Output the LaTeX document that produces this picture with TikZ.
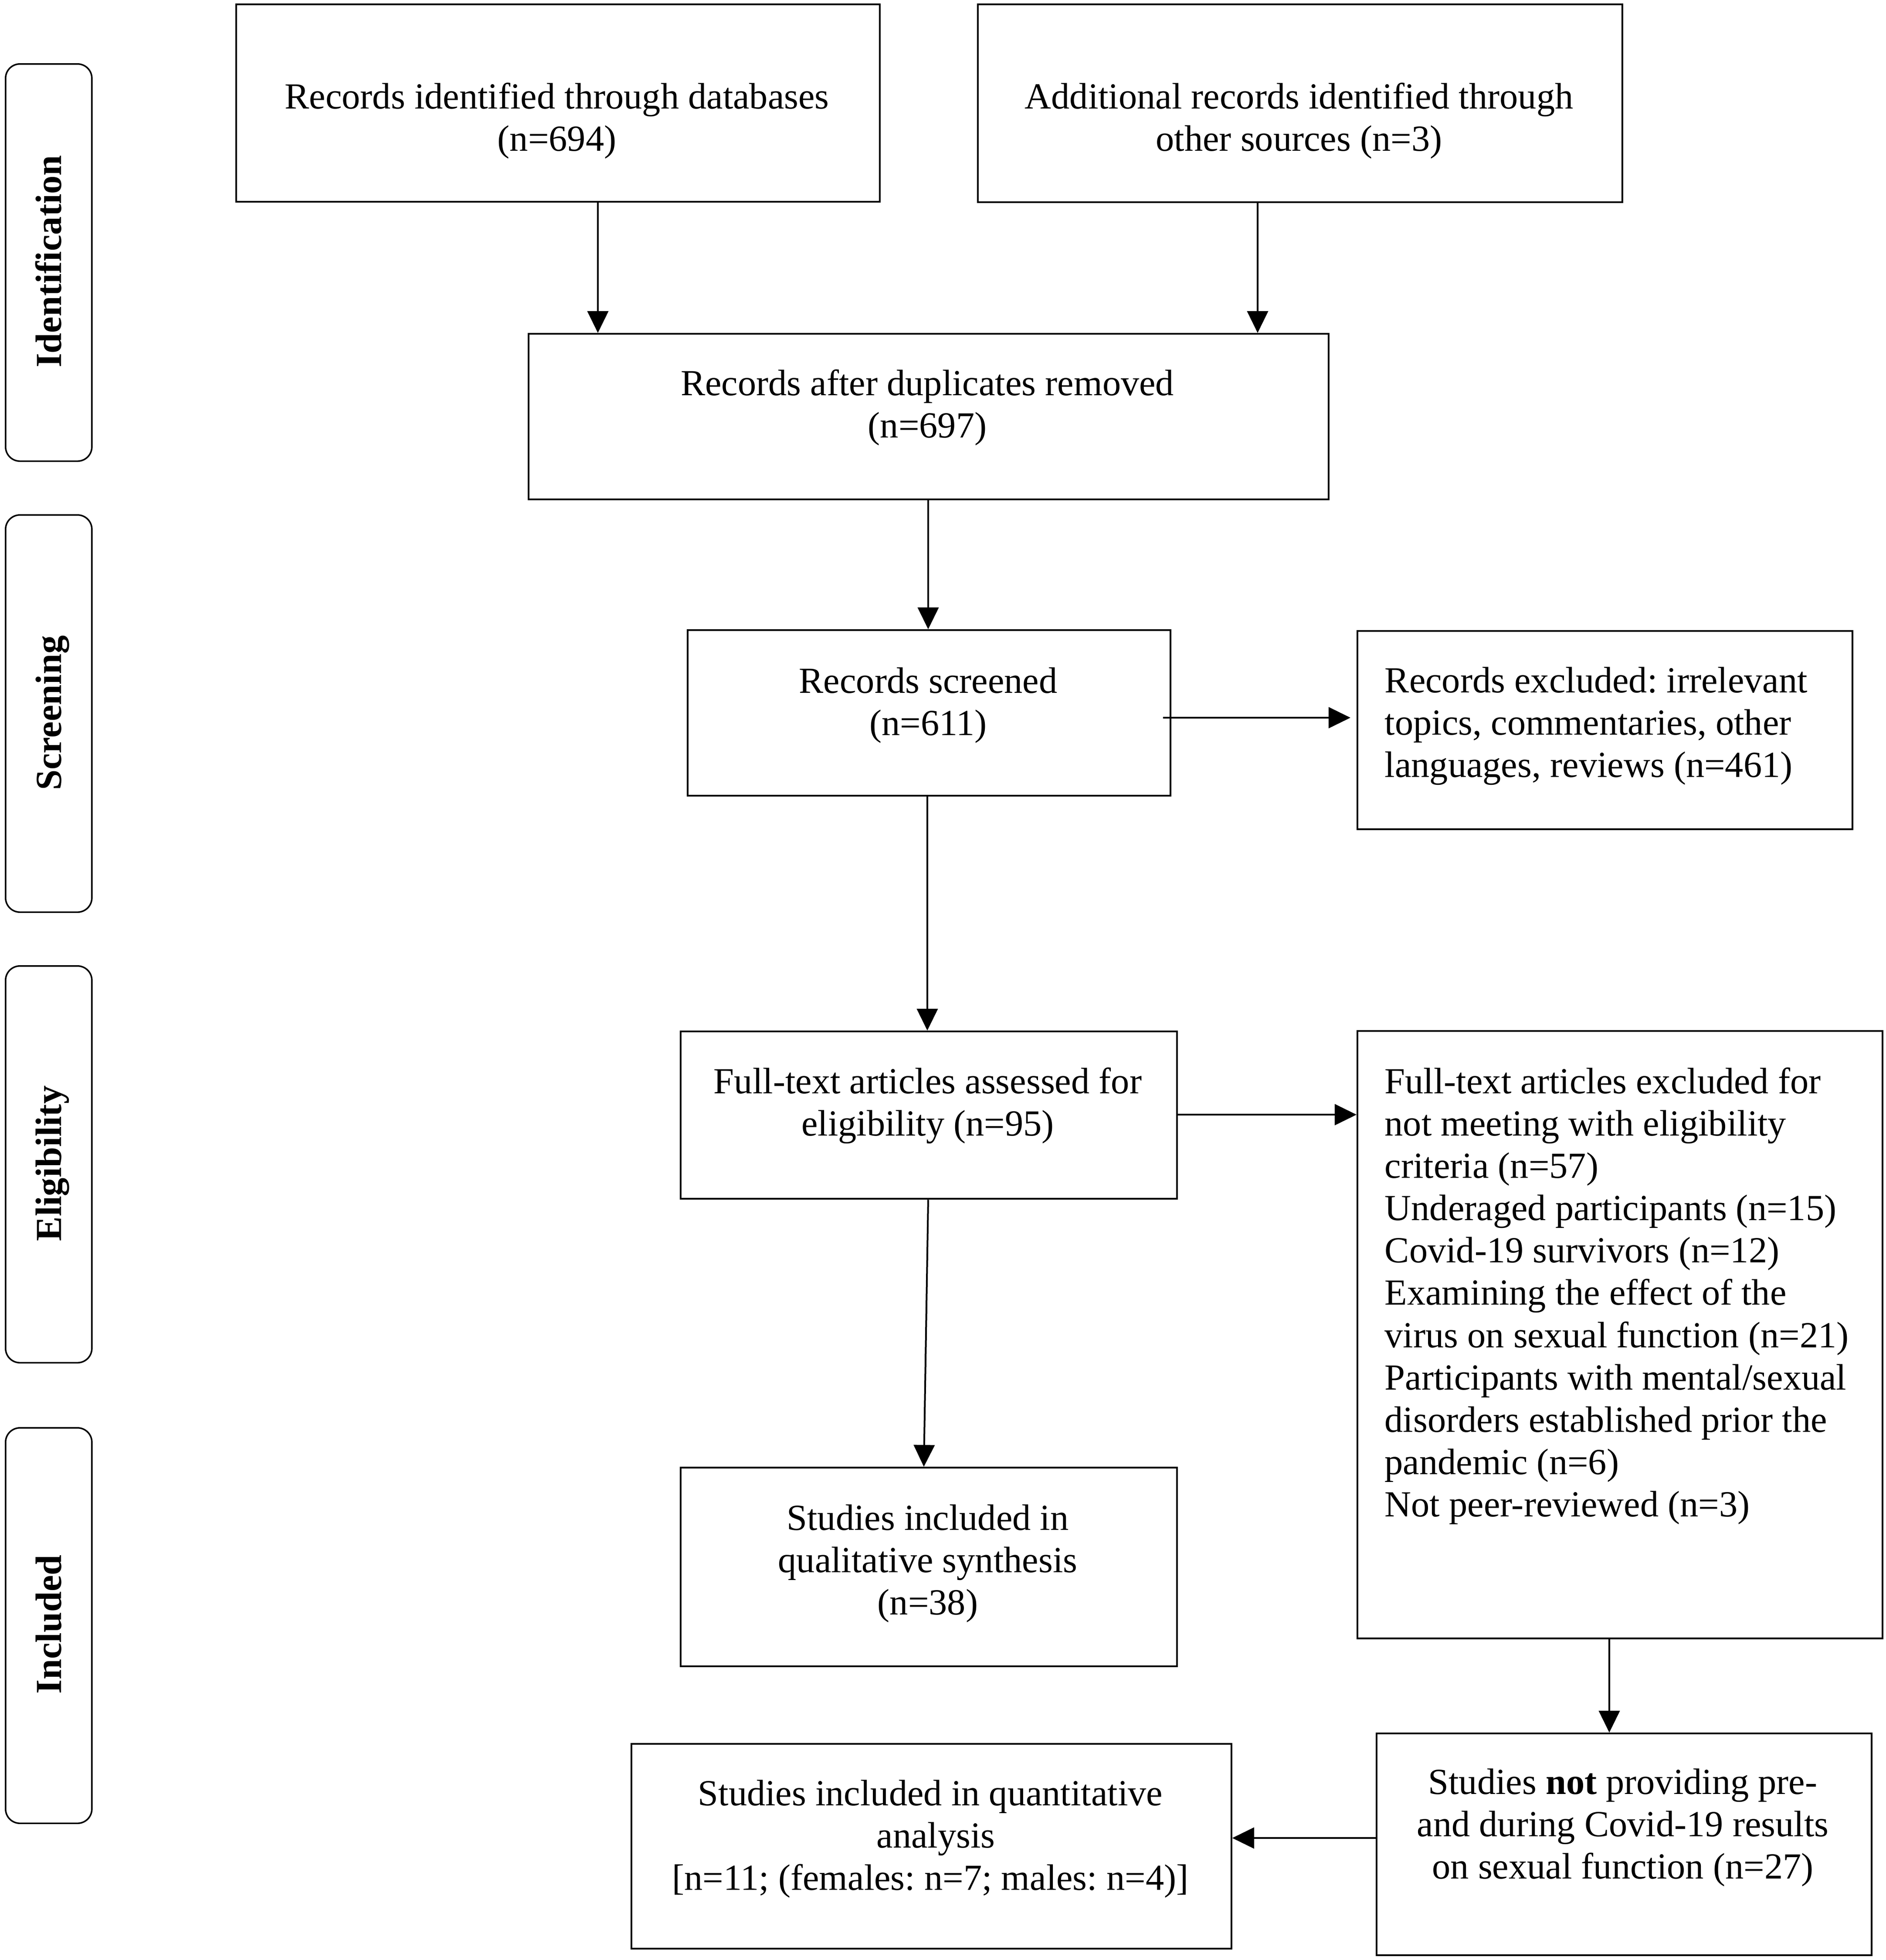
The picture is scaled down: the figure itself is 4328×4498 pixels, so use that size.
\documentclass[tikz,border=0pt]{standalone}
\usepackage{fontspec}
\setmainfont{Liberation Serif}
\usetikzlibrary{arrows.meta}
\frenchspacing
\begin{document}
\begin{tikzpicture}[x=0.01cm,y=-0.01cm]
\tikzset{
 box/.style={draw, line width=0.04cm, rectangle, inner sep=0pt, anchor=north west},
 side/.style={draw, line width=0.035cm, rectangle, rounded corners=0.33cm, inner sep=0pt, anchor=north west, minimum width=1.98cm},
 txt/.style={inner sep=0pt, anchor=north, align=center, font=\fontsize{24}{27.6}\selectfont\frenchspacing},
 ltxt/.style={txt, anchor=north west, align=left},
 stxt/.style={inner sep=0pt, rotate=90, anchor=base, font=\fontsize{24}{27.6}\selectfont\bfseries},
 arr/.style={line width=0.04cm, -{Triangle[length=0.5cm,width=0.48cm]}},
}
\fill[white] (0,0) rectangle (4328,4498);
\useasboundingbox (0,0) rectangle (4328,4498);

% side phase boxes
\node[side, minimum height=9.11cm] (sid) at (11,145) {};
\node[side, minimum height=9.11cm] (ssc) at (11,1180) {};
\node[side, minimum height=9.10cm] (sel) at (11,2215) {};
\node[side, minimum height=9.07cm] (sin) at (11,3275) {};
\node[stxt] (lid) at (140,600) {Identification};
\node[stxt] (lsc) at (140,1636) {Screening};
\node[stxt] (lel) at (140,2670) {Eligibility};
\node[stxt] (lin) at (140,3728) {Included};

% boxes
\node[box, minimum width=14.76cm, minimum height=4.53cm] (b1) at (540,8) {};
\node[box, minimum width=14.78cm, minimum height=4.54cm] (b2) at (2242,8) {};
\node[box, minimum width=18.35cm, minimum height=3.80cm] (b3) at (1211,764) {};
\node[box, minimum width=11.07cm, minimum height=3.80cm] (b4) at (1576,1444) {};
\node[box, minimum width=11.35cm, minimum height=4.55cm] (b5) at (3113,1446) {};
\node[box, minimum width=11.38cm, minimum height=3.84cm] (b6) at (1560,2365) {};
\node[box, minimum width=12.04cm, minimum height=13.93cm] (b7) at (3113,2364) {};
\node[box, minimum width=11.38cm, minimum height=4.56cm] (b8) at (1560,3366) {};
\node[box, minimum width=13.76cm, minimum height=4.70cm] (b9) at (1447,4000) {};
\node[box, minimum width=11.35cm, minimum height=5.09cm] (b10) at (3157,3976) {};

% texts
\node[txt] (t1) at (1278,181) {\strut Records identified through databases\\(n=694)};
\node[txt] (t2) at (2981,181) {\strut Additional records identified through\\other sources (n=3)};
\node[txt] (t3) at (2128,839) {\strut Records after duplicates removed\\(n=697)};
\node[txt] (t4) at (2130,1522) {\strut Records screened\\(n=611)};
\node[ltxt] (t5) at (3177,1521) {\strut Records excluded: irrelevant\\topics, commentaries, other\\languages, reviews (n=461)};
\node[txt] (t6) at (2129,2441) {\strut Full-text articles assessed for\\eligibility (n=95)};
\node[ltxt] (t7) at (3177,2441) {\strut Full-text articles excluded for\\not meeting with eligibility\\criteria (n=57)\\Underaged participants (n=15)\\Covid-19 survivors (n=12)\\Examining the effect of the\\virus on sexual function (n=21)\\Participants with mental/sexual\\disorders established prior the\\pandemic (n=6)\\Not peer-reviewed (n=3)};
\node[txt] (t8) at (2129,3443) {\strut Studies included in\\qualitative synthesis\\(n=38)};
\node[txt] (t9) at (2135,4075) {\strut Studies included in quantitative\\\hspace*{0.25cm}analysis\\{[}n=11; (females: n=7; males: n=4)]};
\node[txt] (t10) at (3724,4049) {\strut Studies \textbf{not} providing pre-\\and during Covid-19 results\\on sexual function (n=27)};

% connectors
\draw[arr] (b1.south -| 1372,0) -- (b3.north -| 1372,0);
\draw[arr] (b2.south -| 2886,0) -- (b3.north -| 2886,0);
\draw[arr] (b3.south -| 2130,0) -- (b4.north -| 2130,0);
\draw[arr, shorten <=-0.19cm, shorten >=0.14cm] (b4.east |- 0,1647) -- (b5.west |- 0,1647);
\draw[arr] (b4.south -| 2128,0) -- (b6.north -| 2128,0);
\draw[arr] (b6.east |- 0,2558) -- (b7.west |- 0,2558);
\draw[arr] (b6.south -| 2130,0) -- (b8.north -| 2120,0);
\draw[arr] (b7.south -| 3693,0) -- (b10.north -| 3693,0);
\draw[arr] (b10.west |- 0,4218) -- (b9.east |- 0,4218);
\end{tikzpicture}
\end{document}
